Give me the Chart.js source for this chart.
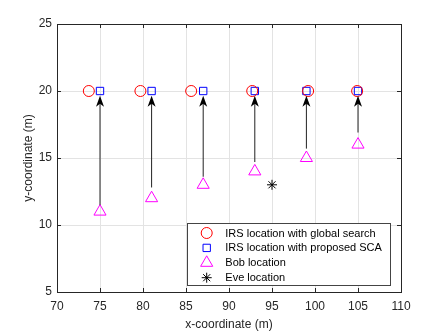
<!DOCTYPE html>
<html>
<head>
<meta charset="utf-8">
<script src="https://cdn.jsdelivr.net/npm/chart.js@4"></script>
<style>
  html, body { margin: 0; padding: 0; background: #fff; }
  #wrap { width: 443px; height: 332px; }
</style>
</head>
<body>
<div id="wrap"><canvas id="c" width="443" height="332"></canvas></div>
<script>
// data
const globalX = [73.7, 79.7, 85.6, 92.7, 99.2, 104.9];
const globalY = [20, 20, 20, 20, 20, 20];
const scaX = [75, 81, 87, 93, 99, 105];
const scaY = [20, 20, 20, 20, 20, 20];
const bobX = [75, 81, 87, 93, 99, 105];
const bobY = [11, 12, 13, 14, 15, 16];
const eveX = [95];
const eveY = [13];
// arrows: from just above Bob up to the SCA square
const arrowStartY = [11.5, 12.8, 13.6, 14.7, 15.7, 16.9];
const arrowTipY = 19.65;
const xTicks = [70, 75, 80, 85, 90, 95, 100, 105, 110];
const yTicks = [5, 10, 15, 20, 25];

const legendLabels = [
  'IRS location with global search',
  'IRS location with proposed SCA',
  'Bob location',
  'Eve location'
];

const FONT = '"Liberation Sans", Arial, sans-serif';
const AX = '#262626';

const pts = (xs, ys) => xs.map((x, i) => ({ x: x, y: ys[i] }));

const markerSets = [
  { label: legendLabels[0], data: pts(globalX, globalY), pointStyle: 'circle', pointRadius: 5.5, borderColor: '#ff0000' },
  { label: legendLabels[1], data: pts(scaX, scaY), pointStyle: 'rect', pointRadius: 5.2, borderColor: '#0000ff' },
  { label: legendLabels[2], data: pts(bobX, bobY), pointStyle: 'triangle', pointRadius: 7, borderColor: '#ff00ff' },
  { label: legendLabels[3], data: pts(eveX, eveY), pointStyle: 'star', pointRadius: 5, borderColor: '#000000' }
].map(d => Object.assign(d, {
  showLine: false, backgroundColor: 'rgba(0,0,0,0)', borderWidth: 1,
  pointBorderColor: d.borderColor, pointBackgroundColor: 'rgba(0,0,0,0)', pointBorderWidth: 1,
  pointHoverRadius: d.pointRadius
}));

const arrowSets = scaX.map((x, i) => ({
  label: 'arrow' + i,
  data: [{ x: x, y: arrowStartY[i] }, { x: x, y: arrowTipY - 0.5 }],
  showLine: true, borderColor: '#222', borderWidth: 1, pointRadius: 0, pointHoverRadius: 0
}));

// arrowheads, axes box with inward ticks, and the legend
const decor = {
  id: 'decor',
  afterDatasetsDraw(chart) {
    const ctx = chart.ctx, xs = chart.scales.x, ys = chart.scales.y;
    ctx.save();
    ctx.fillStyle = '#000';
    scaX.forEach(x => {
      const px = xs.getPixelForValue(x), py = ys.getPixelForValue(arrowTipY);
      ctx.beginPath();
      ctx.moveTo(px, py);
      ctx.lineTo(px - 4, py + 11);
      ctx.lineTo(px, py + 8);
      ctx.lineTo(px + 4, py + 11);
      ctx.closePath();
      ctx.fill();
    });
    ctx.restore();
  },
  afterDraw(chart) {
    const ctx = chart.ctx, a = chart.chartArea, xs = chart.scales.x, ys = chart.scales.y;
    ctx.save();
    ctx.strokeStyle = AX;
    ctx.lineWidth = 1;
    ctx.strokeRect(Math.round(a.left) + 0.5, Math.round(a.top) + 0.5,
      Math.round(a.right - a.left), Math.round(a.bottom - a.top));
    ctx.beginPath();
    xTicks.forEach(v => {
      const px = Math.round(xs.getPixelForValue(v)) + 0.5;
      ctx.moveTo(px, a.bottom); ctx.lineTo(px, a.bottom - 4);
      ctx.moveTo(px, a.top); ctx.lineTo(px, a.top + 4);
    });
    yTicks.forEach(v => {
      const py = Math.round(ys.getPixelForValue(v)) + 0.5;
      ctx.moveTo(a.left, py); ctx.lineTo(a.left + 4, py);
      ctx.moveTo(a.right, py); ctx.lineTo(a.right - 4, py);
    });
    ctx.stroke();

    // legend box
    const lx = 187.5, ly = 223.5, lw = 203, lh = 62;
    ctx.fillStyle = '#fff';
    ctx.fillRect(lx, ly, lw, lh);
    ctx.strokeStyle = '#444';
    ctx.strokeRect(lx, ly, lw, lh);
    ctx.font = '11px ' + FONT;
    ctx.textBaseline = 'middle';
    ctx.textAlign = 'left';
    markerSets.forEach((d, i) => {
      const cy = 233 + i * 14.9;
      ctx.fillStyle = 'rgba(0,0,0,0)';
      ctx.strokeStyle = d.borderColor;
      ctx.lineWidth = 1;
      Chart.helpers.drawPoint(ctx, {
        pointStyle: d.pointStyle, radius: d.pointRadius, rotation: 0, borderWidth: 1
      }, 206.7, cy);
      ctx.fillStyle = '#000';
      ctx.fillText(d.label, 225.3, cy + 0.5);
    });
    ctx.restore();
  }
};

new Chart(document.getElementById('c'), {
  type: 'scatter',
  data: { datasets: arrowSets.concat(markerSets) },
  options: {
    responsive: false,
    animation: false,
    events: [],
    layout: { padding: { left: 0, right: 42, top: 24, bottom: 0 } },
    plugins: { legend: { display: false }, tooltip: { enabled: false } },
    scales: {
      x: {
        type: 'linear', min: 70, max: 110,
        afterBuildTicks: s => { s.ticks = xTicks.map(v => ({ value: v })); },
        afterFit: s => { s.height = 40; },
        grid: { color: '#e3e3e3', drawTicks: false },
        border: { display: false },
        ticks: { color: AX, padding: 7, font: { family: FONT, size: 12 }, maxRotation: 0 },
        title: { display: true, text: 'x-coordinate (m)', color: AX, font: { family: FONT, size: 12 }, padding: { top: 0, bottom: 0 } }
      },
      y: {
        type: 'linear', min: 5, max: 25,
        afterBuildTicks: s => { s.ticks = yTicks.map(v => ({ value: v })); },
        afterFit: s => { s.width = 57; },
        grid: { color: '#e3e3e3', drawTicks: false },
        border: { display: false },
        ticks: { color: AX, padding: 5, font: { family: FONT, size: 12 } },
        title: { display: true, text: 'y-coordinate (m)', color: AX, font: { family: FONT, size: 12 }, padding: { top: 21, bottom: 0 } }
      }
    }
  },
  plugins: [decor]
});
</script>
</body>
</html>
